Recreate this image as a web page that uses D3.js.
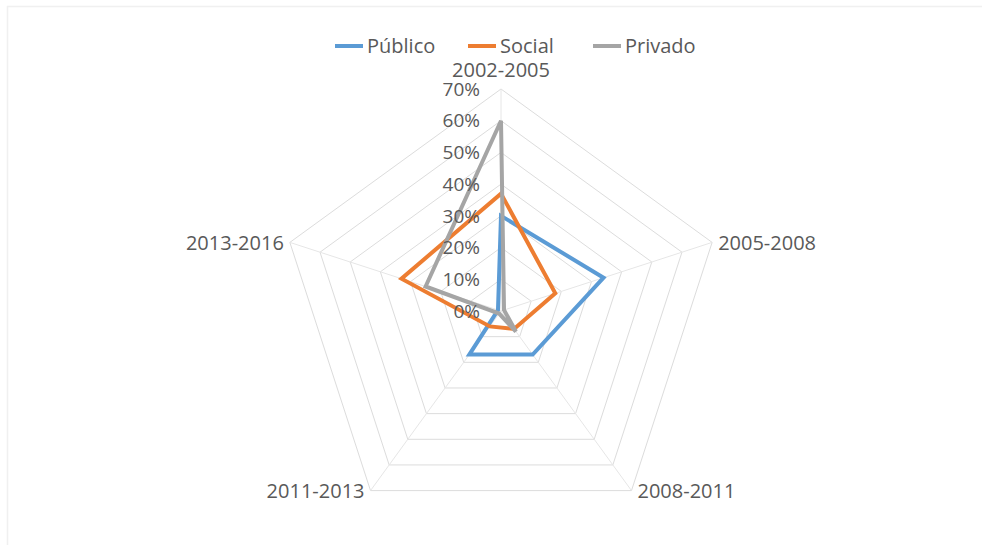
<!DOCTYPE html>
<html>
<head>
<meta charset="utf-8">
<script src="https://cdn.jsdelivr.net/npm/d3@7"></script>
<style>
  html, body { margin: 0; padding: 0; background: #fff; }
  svg { display: block; }
  text { font-family: "Open Sans", "Liberation Sans", sans-serif; fill: #595959; }
</style>
</head>
<body>
<svg id="chart" width="982" height="552"></svg>
<script>
// Periods shown on the radar axes (clockwise from the top)
const periods = ["2002-2005", "2005-2008", "2008-2011", "2011-2013", "2013-2016"];

// Share per sector and period
const publico = [0.30, 0.34, 0.17, 0.17, 0.01];
const social  = [0.37, 0.18, 0.07, 0.06, 0.33];
const privado = [0.60, 0.01, 0.08, 0.01, 0.25];

const seriesNames  = ["Público", "Social", "Privado"];
const seriesColors = ["#5B9BD5", "#ED7D31", "#A5A5A5"];

// Radial axis ticks
const tickValues = [0, 0.1, 0.2, 0.3, 0.4, 0.5, 0.6, 0.7];

const series = [publico, social, privado].map((values, i) => ({
  name: seriesNames[i], color: seriesColors[i], values
}));

const cx = 501, cy = 311, R = 222;

const svg = d3.select("#chart");

// faint chart-area frame (top and left edges)
svg.append("line").attr("x1", 7).attr("x2", 982).attr("y1", 6.5).attr("y2", 6.5)
  .attr("stroke", "#f0f0f0").attr("stroke-width", 1.5);
svg.append("line").attr("x1", 7.5).attr("x2", 7.5).attr("y1", 6).attr("y2", 545)
  .attr("stroke", "#f0f0f0").attr("stroke-width", 1.5);

const r = d3.scaleLinear().domain([0, 0.7]).range([0, R]);
const angle = d3.scalePoint().domain(periods).range([0, 2 * Math.PI * (periods.length - 1) / periods.length]);

const pt = (period, v) => {
  const a = angle(period);
  return [cx + r(v) * Math.sin(a), cy - r(v) * Math.cos(a)];
};

const g = svg.append("g");

// grid rings
const ringLine = d3.line().curve(d3.curveLinearClosed);
g.selectAll("path.ring")
  .data(tickValues.filter(t => t > 0))
  .join("path")
  .attr("class", "ring")
  .attr("d", t => ringLine(periods.map(p => pt(p, t))))
  .attr("fill", "none")
  .attr("stroke", "#dcdcdc")
  .attr("stroke-width", 1);

// spokes
g.selectAll("line.spoke")
  .data(periods)
  .join("line")
  .attr("class", "spoke")
  .attr("x1", cx).attr("y1", cy)
  .attr("x2", p => pt(p, 0.7)[0])
  .attr("y2", p => pt(p, 0.7)[1])
  .attr("stroke", "#e6e6e6")
  .attr("stroke-width", 1);

// series polygons
const radarLine = d3.lineRadial()
  .angle((d, i) => angle(periods[i]))
  .radius(d => r(d))
  .curve(d3.curveLinearClosed);

g.selectAll("path.series")
  .data(series)
  .join("path")
  .attr("class", "series")
  .attr("transform", `translate(${cx},${cy})`)
  .attr("d", d => radarLine(d.values))
  .attr("fill", "none")
  .attr("stroke", d => d.color)
  .attr("stroke-width", 4)
  .attr("stroke-linejoin", "miter");

// tick labels along the top axis
g.selectAll("text.tick")
  .data(tickValues)
  .join("text")
  .attr("class", "tick")
  .attr("x", cx - 21)
  .attr("y", t => cy - r(t))
  .attr("dy", "0.35em")
  .attr("text-anchor", "end")
  .style("font-size", "19px")
  .text(d3.format(".0%"));

// period labels
const labelPos = {
  "2002-2005": { dx: 0, dy: -19, anchor: "middle" },
  "2005-2008": { dx: 6, dy: 1, anchor: "start" },
  "2008-2011": { dx: 6, dy: 0, anchor: "start" },
  "2011-2013": { dx: -6, dy: 0, anchor: "end" },
  "2013-2016": { dx: -6, dy: 1, anchor: "end" }
};
g.selectAll("text.period")
  .data(periods)
  .join("text")
  .attr("class", "period")
  .attr("x", p => pt(p, 0.7)[0] + labelPos[p].dx)
  .attr("y", p => pt(p, 0.7)[1] + labelPos[p].dy)
  .attr("dy", "0.35em")
  .attr("text-anchor", p => labelPos[p].anchor)
  .style("font-size", "20px")
  .text(p => p);

// legend
const legendX = [335, 468, 593];
const legend = svg.append("g");
const items = legend.selectAll("g")
  .data(series)
  .join("g")
  .attr("transform", (d, i) => `translate(${legendX[i]},46)`);
items.append("line")
  .attr("x1", 0).attr("x2", 28)
  .attr("stroke", d => d.color)
  .attr("stroke-width", 4);
items.append("text")
  .attr("x", 32)
  .attr("dy", "0.35em")
  .style("font-size", "20px")
  .text(d => d.name);
</script>
</body>
</html>
